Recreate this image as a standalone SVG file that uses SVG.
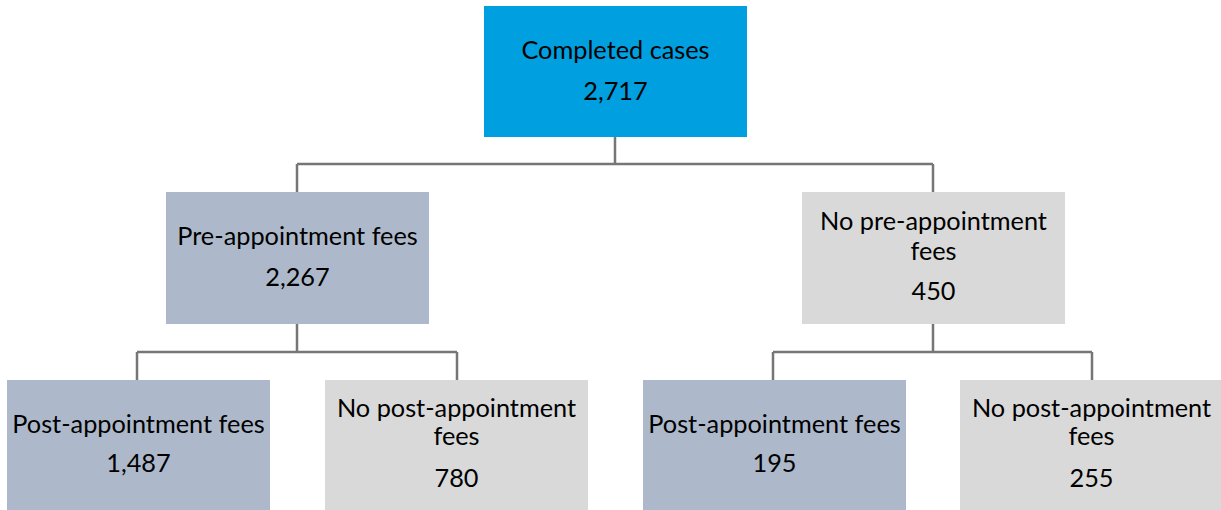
<svg xmlns="http://www.w3.org/2000/svg" width="1221" height="510" viewBox="0 0 1221 510">
<style>
text{font-family:Lato,"Open Sans",sans-serif;font-size:25.3px;fill:#000;text-anchor:middle}
.top{fill:#009FDF}
.blue{fill:#ADB9CA}
.grey{fill:#D9D9D9}
.c{stroke:#767676;stroke-width:2.5;fill:none}
</style>
<rect width="1221" height="510" fill="#fff"/>
<g id="connectors">
<path class="c" d="M615 137V164M297 164H933M297 164V192M933 164V192"/>
<path class="c" d="M297 324V352M137 352H457M137 352V380M457 352V380"/>
<path class="c" d="M933 324V352M773 352H1092M773 352V380M1092 352V380"/>
</g>
<g id="completed">
<rect class="top" x="484" y="6" width="263" height="131"/>
<text x="615.5" y="59">Completed cases</text>
<text x="615.5" y="100">2,717</text>
</g>
<g id="pre">
<rect class="blue" x="166" y="192" width="263" height="132"/>
<text x="297.5" y="245">Pre-appointment fees</text>
<text x="297.5" y="286">2,267</text>
</g>
<g id="nopre">
<rect class="grey" x="802" y="192" width="263" height="132"/>
<text x="933.5" y="230">No pre-appointment</text>
<text x="933.5" y="260">fees</text>
<text x="933.5" y="300">450</text>
</g>
<g id="pre-post">
<rect class="blue" x="7" y="380" width="263" height="130"/>
<text x="138.5" y="433">Post-appointment fees</text>
<text x="138.5" y="472">1,487</text>
</g>
<g id="pre-nopost">
<rect class="grey" x="325" y="380" width="263" height="130"/>
<text x="456.5" y="417">No post-appointment</text>
<text x="456.5" y="445">fees</text>
<text x="456.5" y="487">780</text>
</g>
<g id="nopre-post">
<rect class="blue" x="643" y="380" width="263" height="130"/>
<text x="774.5" y="433">Post-appointment fees</text>
<text x="774.5" y="472">195</text>
</g>
<g id="nopre-nopost">
<rect class="grey" x="960" y="380" width="261" height="130"/>
<text x="1091.5" y="417">No post-appointment</text>
<text x="1091.5" y="445">fees</text>
<text x="1091.5" y="487">255</text>
</g>
</svg>
